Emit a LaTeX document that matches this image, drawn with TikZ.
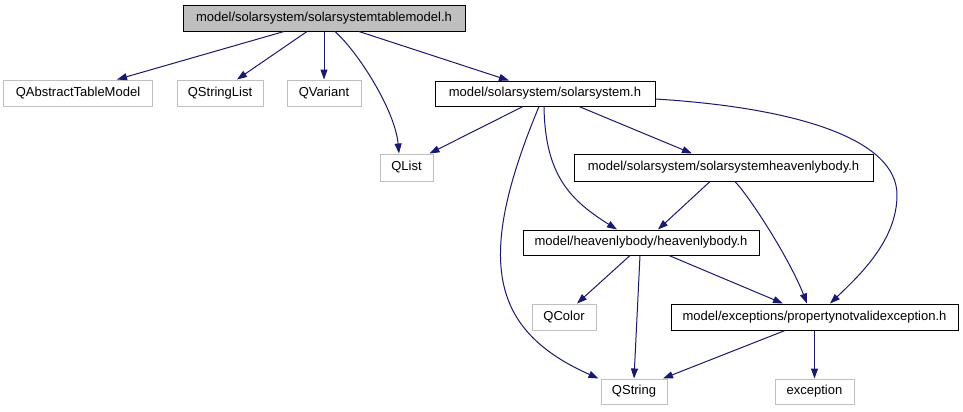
\documentclass[tikz,border=0pt]{standalone}
\usepackage{fontspec}
\setmainfont{Liberation Sans}
\usetikzlibrary{arrows.meta}
\definecolor{edgec}{HTML}{191970}
\definecolor{lgray}{HTML}{BFBFBF}
\begin{document}
\begin{tikzpicture}[x=1bp,y=-1bp,
  box/.style={draw=black, line width=1bp, inner sep=0pt, font=\fontsize{13bp}{15bp}\selectfont, anchor=center, fill=white},
  ext/.style={box, draw=lgray},
  dep/.style={draw=edgec, line width=1bp, -{Triangle[length=10bp,width=7bp]}}]
\useasboundingbox[fill=white] (0,0) rectangle (963,411);

\node[box, fill=lgray, minimum width=282bp, minimum height=26bp] (stm) at (324,18) {model/solarsystem/solarsystemtablemodel.h};
\node[ext, minimum width=148bp, minimum height=26bp] (qatm) at (78,93) {QAbstractTableModel};
\node[ext, minimum width=86bp, minimum height=26bp] (qsl) at (220,93) {QStringList};
\node[ext, minimum width=74bp, minimum height=26bp] (qvar) at (324,93) {QVariant};
\node[box, minimum width=220bp, minimum height=25bp] (ss) at (545,93.5) {model/solarsystem/solarsystem.h};
\node[ext, minimum width=53bp, minimum height=27bp] (qlist) at (406.5,167.5) {QList};
\node[box, minimum width=299bp, minimum height=27bp] (ssh) at (723.5,167.5) {model/solarsystem/solarsystemheavenlybody.h};
\node[box, minimum width=236bp, minimum height=25bp] (hb) at (641,242.5) {model/heavenlybody/heavenlybody.h};
\node[ext, minimum width=64bp, minimum height=26bp] (qcolor) at (564,317) {QColor};
\node[box, minimum width=287bp, minimum height=26bp] (pnve) at (814.5,317) {model/exceptions/propertynotvalidexception.h};
\node[ext, minimum width=66bp, minimum height=25bp] (qstring) at (634,391.5) {QString};
\node[ext, minimum width=79bp, minimum height=25bp] (exc) at (814.5,391.5) {exception};

\draw[dep] ([xshift=-40bp]stm.south) -- ([xshift=39bp]qatm.north);
\draw[dep] ([xshift=-17bp]stm.south) -- ([xshift=17bp]qsl.north);
\draw[dep] (stm.south) -- (qvar.north);
\draw[dep] ([xshift=11bp]stm.south) .. controls (358,52) and (395,110) .. ([xshift=-7.5bp]qlist.north);
\draw[dep] ([xshift=35bp]stm.south) -- ([xshift=-36bp]ss.north);

\draw[dep] ([xshift=-22bp]ss.south) -- ([xshift=23bp]qlist.north);
\draw[dep] ([xshift=-6bp]ss.south) .. controls (475,260) and (490,330) .. ([xshift=-2bp]qstring.north west);
\draw[dep] ([xshift=-1bp]ss.south) .. controls (545,175) and (570,200) .. ([xshift=-24bp]hb.north);
\draw[dep] ([xshift=34bp]ss.south) -- ([xshift=-31.5bp]ssh.north);
\draw[dep] ([yshift=-5.5bp]ss.east) .. controls (800,108) and (897,140) .. (897,195)
   .. controls (897,240) and (860,275) .. ([xshift=15.5bp]pnve.north);

\draw[dep] ([xshift=-13.5bp]ssh.south) -- ([xshift=17bp]hb.north);
\draw[dep] ([xshift=11.5bp]ssh.south) .. controls (752,200) and (790,260) .. ([xshift=-7.5bp]pnve.north);

\draw[dep] ([xshift=-11bp]hb.south) -- ([xshift=13bp]qcolor.north);
\draw[dep] ([xshift=-1bp]hb.south) -- (qstring.north);
\draw[dep] ([xshift=28bp]hb.south) -- ([xshift=-31.5bp]pnve.north);

\draw[dep] ([xshift=-29.5bp]pnve.south) -- ([xshift=29bp]qstring.north);
\draw[dep] (pnve.south) -- (exc.north);
\end{tikzpicture}
\end{document}
